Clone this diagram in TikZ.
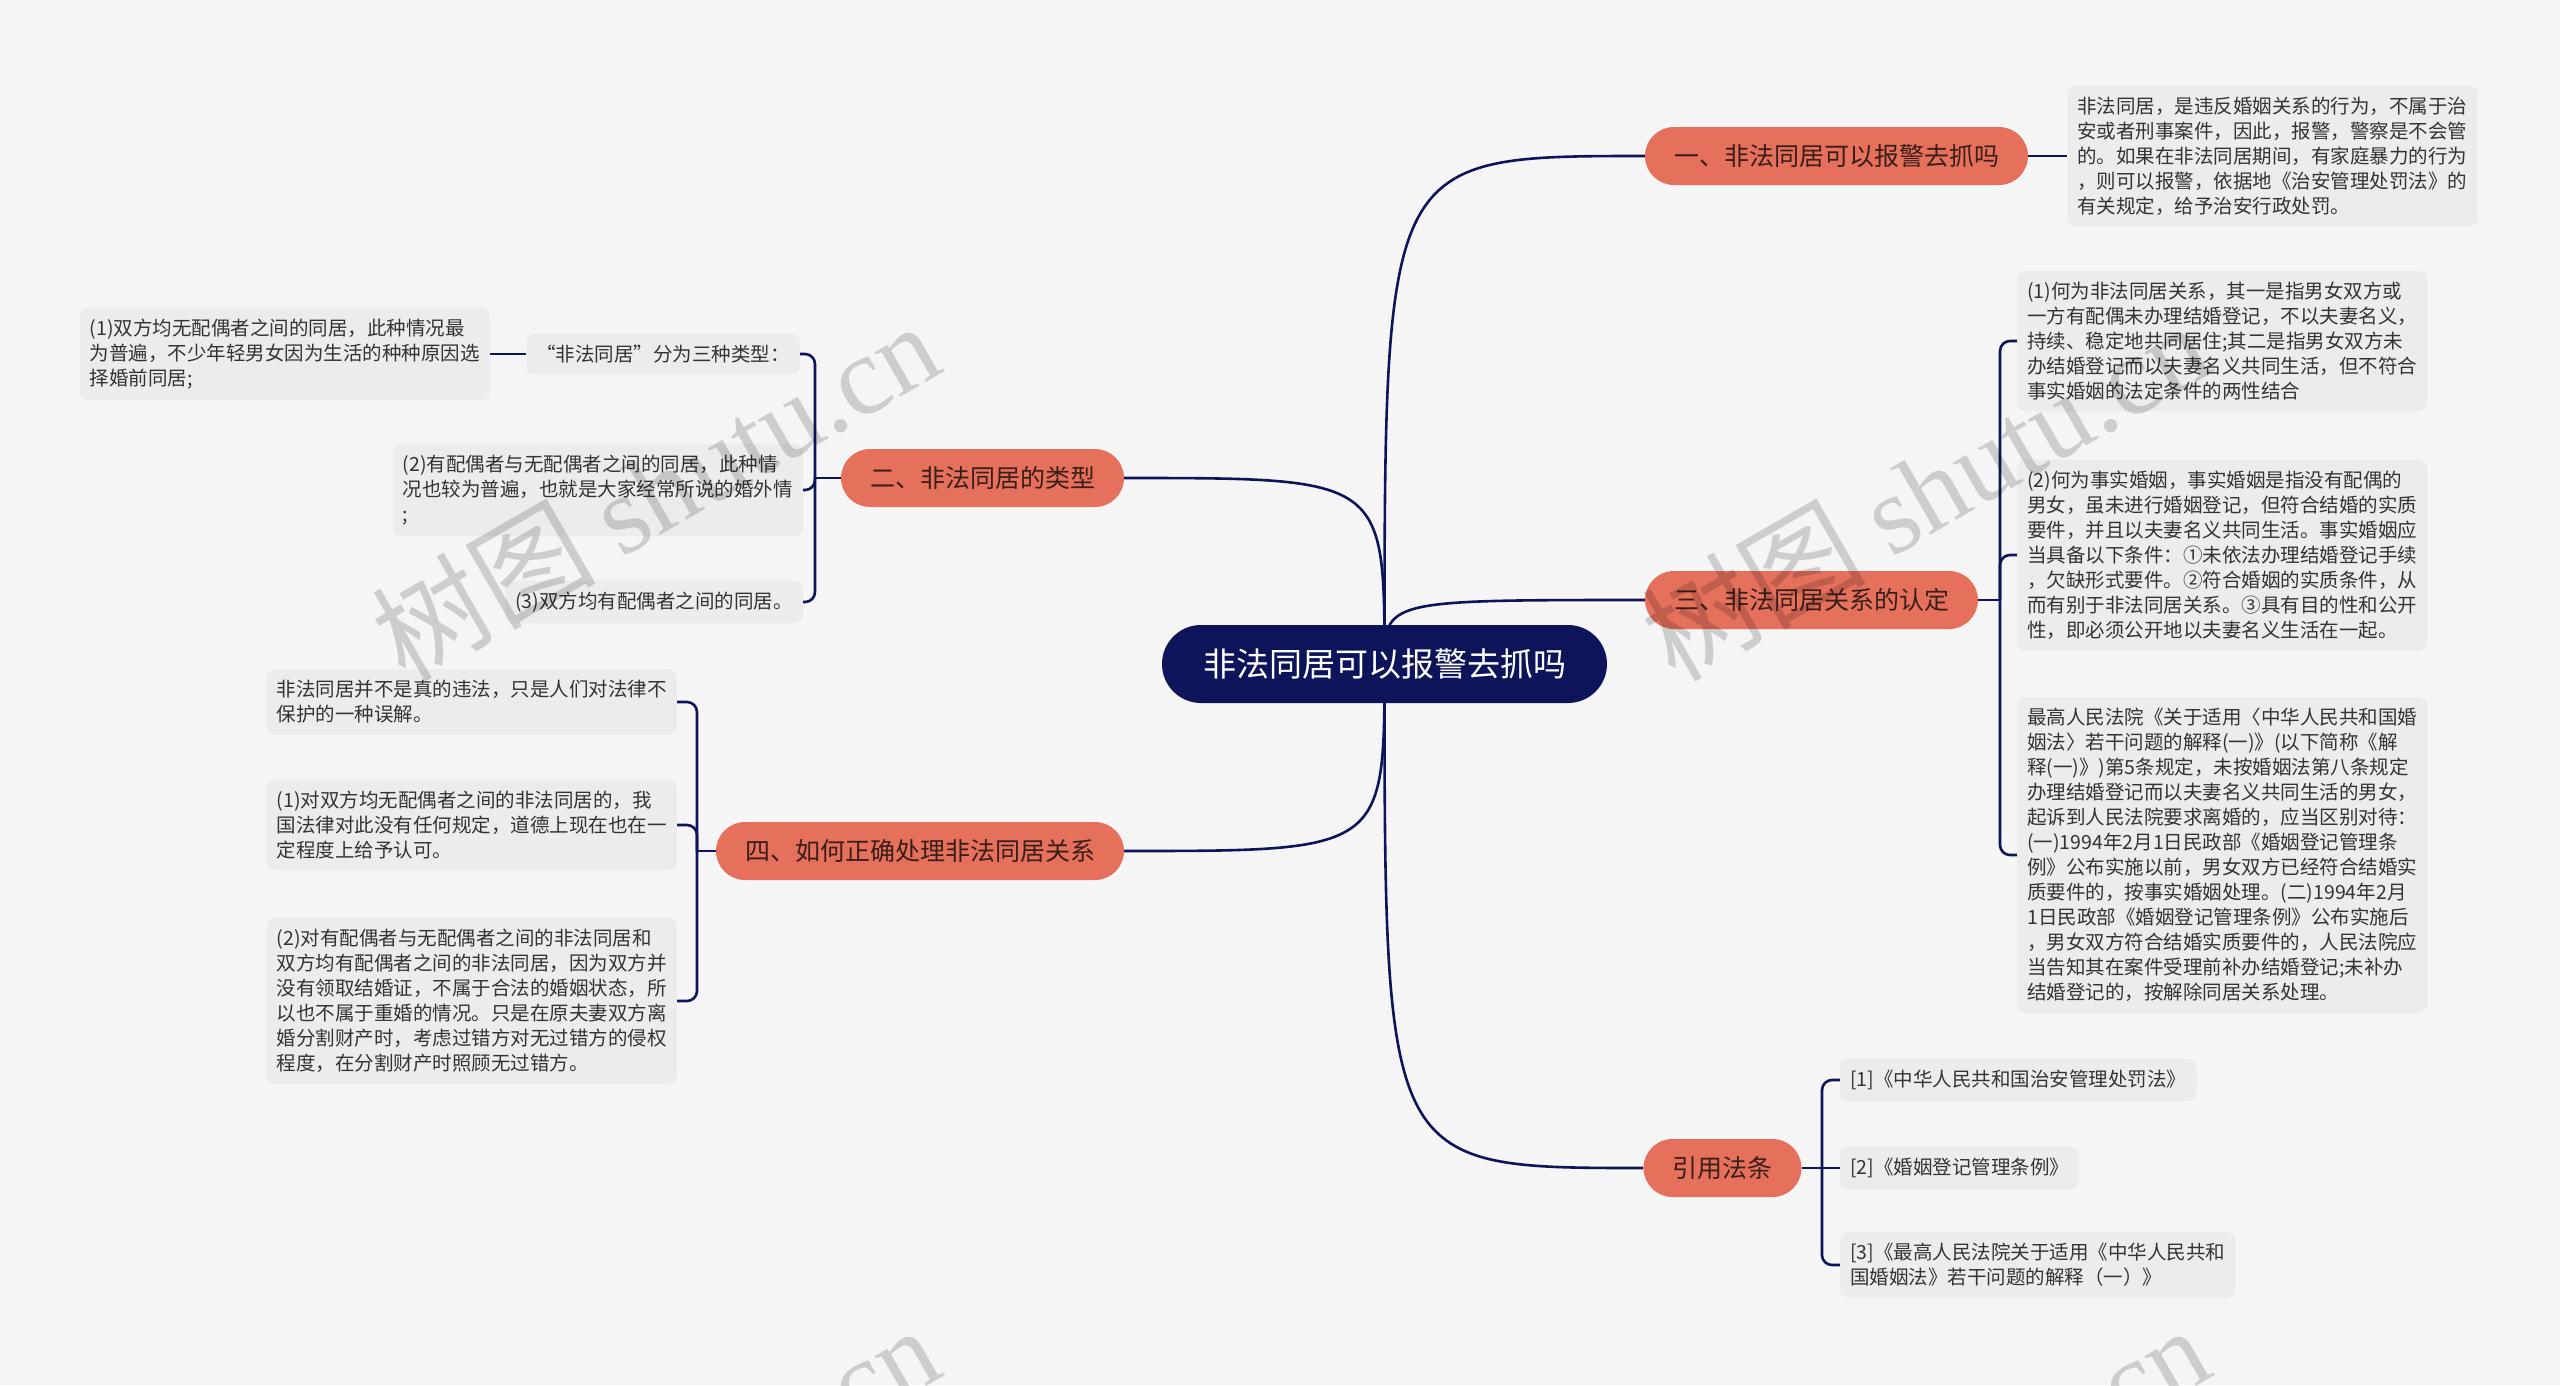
\documentclass[tikz,border=0pt]{standalone}
\usepackage{fontspec}
\setmainfont{Noto Sans CJK SC}
\newfontfamily\wmfont{Liberation Serif}
\usepackage{tikz}
\usetikzlibrary{positioning,backgrounds}
\definecolor{rootc}{HTML}{0E1459}
\definecolor{linec}{HTML}{0E1459}
\definecolor{brc}{HTML}{E5705B}
\definecolor{brtext}{HTML}{3A1E19}
\definecolor{leafc}{HTML}{ECECEC}
\definecolor{leaftext}{HTML}{333333}
\definecolor{bgc}{HTML}{F5F5F5}
\tikzset{
  root/.style={fill=rootc,text=white,rounded corners=39pt,minimum width=445pt,minimum height=78pt,inner sep=0pt,font=\fontsize{33}{40}\selectfont},
  branch/.style={fill=brc,text=brtext,rounded corners=29pt,minimum height=58pt,inner xsep=29pt,inner ysep=0pt,font=\fontsize{25}{30}\selectfont},
  leaf/.style={fill=leafc,text=leaftext,rounded corners=8pt,align=left,inner xsep=10pt,inner ysep=11pt,font=\fontsize{19.5}{25}\selectfont},
  link/.style={draw=linec,line width=2.6pt},
  spine/.style={link,rounded corners=10pt},
  wmark/.style={text=black,text opacity=0.16,rotate=30,font=\fontsize{112}{118}\selectfont},
}
\begin{document}
\begin{tikzpicture}[x=1pt,y=-1pt]
  \useasboundingbox (0,0) rectangle (2560,1385);
  \begin{scope}[on background layer]
    \fill[bgc] (0,0) rectangle (2560,1385);
  \end{scope}
  \clip (0,0) rectangle (2560,1385);
  % 中心主题
  \node[root] (root) at (1384.5,664) {非法同居可以报警去抓吗};
  % 分支
  \node[branch] (b1) at (1836.5,156) {一、非法同居可以报警去抓吗};
  \node[branch] (b2) at (982.5,478) {二、非法同居的类型};
  \node[branch] (b3) at (1811.5,600) {三、非法同居关系的认定};
  \node[branch] (b4) at (920,851) {四、如何正确处理非法同居关系};
  \node[branch] (b5) at (1722.5,1168) {引用法条};
  % 右侧内容
  \node[leaf,right=39pt of b1] (l1) {非法同居，是违反婚姻关系的行为，不属于治\\安或者刑事案件，因此，报警，警察是不会管\\的。如果在非法同居期间，有家庭暴力的行为\\，则可以报警，依据地《治安管理处罚法》的\\有关规定，给予治安行政处罚。};
  \node[leaf,anchor=west] (l3a) at (2017,341) {(1)何为非法同居关系，其一是指男女双方或\\一方有配偶未办理结婚登记，不以夫妻名义，\\持续、稳定地共同居住;其二是指男女双方未\\办结婚登记而以夫妻名义共同生活，但不符合\\事实婚姻的法定条件的两性结合};
  \node[leaf,anchor=west] (l3b) at (2017,555) {(2)何为事实婚姻，事实婚姻是指没有配偶的\\男女，虽未进行婚姻登记，但符合结婚的实质\\要件，并且以夫妻名义共同生活。事实婚姻应\\当具备以下条件：①未依法办理结婚登记手续\\，欠缺形式要件。②符合婚姻的实质条件，从\\而有别于非法同居关系。③具有目的性和公开\\性，即必须公开地以夫妻名义生活在一起。};
  \node[leaf,anchor=west] (l3c) at (2017,855) {最高人民法院《关于适用〈中华人民共和国婚\\姻法〉若干问题的解释(一)》(以下简称《解\\释(一)》)第5条规定，未按婚姻法第八条规定\\办理结婚登记而以夫妻名义共同生活的男女，\\起诉到人民法院要求离婚的，应当区别对待：\\(一)1994年2月1日民政部《婚姻登记管理条\\例》公布实施以前，男女双方已经符合结婚实\\质要件的，按事实婚姻处理。(二)1994年2月\\1日民政部《婚姻登记管理条例》公布实施后\\，男女双方符合结婚实质要件的，人民法院应\\当告知其在案件受理前补办结婚登记;未补办\\结婚登记的，按解除同居关系处理。};
  \node[leaf,anchor=west] (l5a) at (1840,1080) {[1]《中华人民共和国治安管理处罚法》};
  \node[leaf,anchor=west] (l5b) at (1840,1168) {[2]《婚姻登记管理条例》};
  \node[leaf,anchor=west] (l5c) at (1840,1265) {[3]《最高人民法院关于适用《中华人民共和\\国婚姻法》若干问题的解释（一）》};
  % 左侧内容
  \node[leaf,anchor=east] (l2i) at (800,354) {“非法同居”分为三种类型：};
  \node[leaf,left=36pt of l2i] (l2a) {(1)双方均无配偶者之间的同居，此种情况最\\为普遍，不少年轻男女因为生活的种种原因选\\择婚前同居;};
  \node[leaf,anchor=east] (l2b) at (803,490) {(2)有配偶者与无配偶者之间的同居，此种情\\况也较为普遍，也就是大家经常所说的婚外情\\;};
  \node[leaf,anchor=east] (l2c) at (803,602) {(3)双方均有配偶者之间的同居。};
  \node[leaf,anchor=east] (l4a) at (677,702) {非法同居并不是真的违法，只是人们对法律不\\保护的一种误解。};
  \node[leaf,anchor=east] (l4b) at (677,825) {(1)对双方均无配偶者之间的非法同居的，我\\国法律对此没有任何规定，道德上现在也在一\\定程度上给予认可。};
  \node[leaf,anchor=east] (l4c) at (677,1001) {(2)对有配偶者与无配偶者之间的非法同居和\\双方均有配偶者之间的非法同居，因为双方并\\没有领取结婚证，不属于合法的婚姻状态，所\\以也不属于重婚的情况。只是在原夫妻双方离\\婚分割财产时，考虑过错方对无过错方的侵权\\程度，在分割财产时照顾无过错方。};
  % 连线
  \begin{scope}[on background layer]
    \foreach \b in {b1,b3,b5}
      \draw[link] (root.center) .. controls (root.center |- \b.west) .. (\b.west);
    \foreach \b in {b2,b4}
      \draw[link] (root.center) .. controls (root.center |- \b.east) .. (\b.east);
    \draw[link] (b1) -- (l1);
    \coordinate (s2) at (815,478);
    \draw[link] (b2.west) -- (s2);
    \foreach \c in {l2i,l2b,l2c}
      \draw[spine] (s2) |- (\c.east);
    \draw[link] (l2i) -- (l2a);
    \coordinate (s3) at (2000,600);
    \draw[link] (b3.east) -- (s3);
    \foreach \c in {l3a,l3b,l3c}
      \draw[spine] (s3) |- (\c.west);
    \coordinate (s4) at (697,851);
    \draw[link] (b4.west) -- (s4);
    \foreach \c in {l4a,l4b,l4c}
      \draw[spine] (s4) |- (\c.east);
    \coordinate (s5) at (1822,1168);
    \draw[link] (b5) -- (l5b);
    \foreach \c in {l5a,l5c}
      \draw[spine] (s5) |- (\c.west);
  \end{scope}
  % 水印
  \node[wmark] (wm1) at (655,490) {树图 {\wmfont shutu.cn}};
  \node[wmark] (wm2) at (1925,490) {树图 {\wmfont shutu.cn}};
  \node[wmark] (wm3) at (655,1494) {树图 {\wmfont shutu.cn}};
  \node[wmark] (wm4) at (1925,1494) {树图 {\wmfont shutu.cn}};
\end{tikzpicture}
\end{document}
